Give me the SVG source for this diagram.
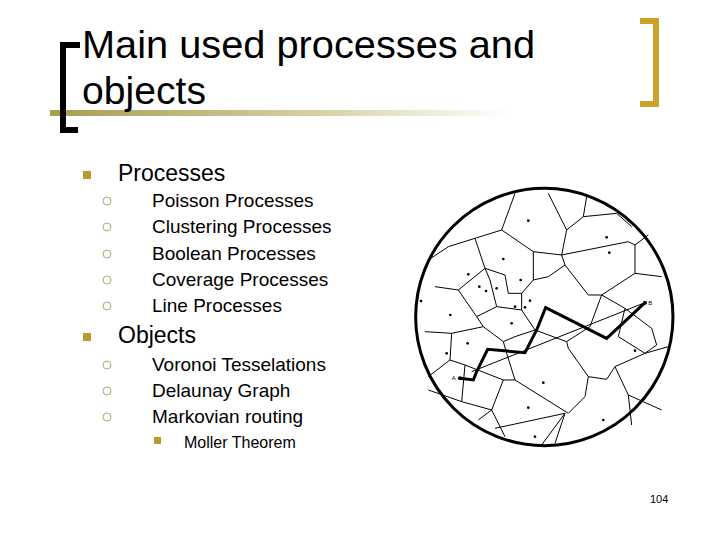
<svg xmlns="http://www.w3.org/2000/svg" width="720" height="540" viewBox="0 0 720 540">
<defs>
<linearGradient id="g" x1="0" x2="1"><stop offset="0" stop-color="#a89c4e"/><stop offset="0.6" stop-color="#d8d2a8"/><stop offset="1" stop-color="#fff"/></linearGradient>
<style>
text{font-family:"Liberation Sans",Arial,sans-serif;fill:#000}
.sq{fill:#b39a2c}
.ci{fill:none;stroke:#b0a878;stroke-width:1}
.l1{font-size:23px}.l2{font-size:19px}
.v{fill:none;stroke:#000;stroke-width:1;vector-effect:non-scaling-stroke}
.d{fill:#000}
</style>
</defs>
<rect width="720" height="540" fill="#fff"/>
<g id="title">
<rect x="50" y="110" width="460" height="6" fill="url(#g)"/>
<path d="M80,45 H63 V130 H78" fill="none" stroke="#000" stroke-width="6"/>
<path d="M640,21 H656 V104 H640" fill="none" stroke="#c9a227" stroke-width="6"/>
<text x="82" y="58" font-size="39" textLength="453" lengthAdjust="spacingAndGlyphs">Main used processes and</text>
<text x="82" y="104" font-size="39" textLength="124" lengthAdjust="spacingAndGlyphs">objects</text>
</g>
<g id="list">
<rect class="sq" x="83" y="171" width="8" height="8"/><text class="l1" x="118" y="181">Processes</text>
<circle class="ci" cx="107" cy="201" r="4"/><text class="l2" x="152" y="207">Poisson Processes</text>
<circle class="ci" cx="107" cy="227" r="4"/><text class="l2" x="152" y="233">Clustering Processes</text>
<circle class="ci" cx="107" cy="254" r="4"/><text class="l2" x="152" y="260">Boolean Processes</text>
<circle class="ci" cx="107" cy="280" r="4"/><text class="l2" x="152" y="286">Coverage Processes</text>
<circle class="ci" cx="107" cy="306" r="4"/><text class="l2" x="152" y="312">Line Processes</text>
<rect class="sq" x="83" y="333" width="8" height="8"/><text class="l1" x="118" y="343">Objects</text>
<circle class="ci" cx="107" cy="365" r="4"/><text class="l2" x="152" y="371">Voronoi Tesselations</text>
<circle class="ci" cx="107" cy="391" r="4"/><text class="l2" x="152" y="397">Delaunay Graph</text>
<circle class="ci" cx="107" cy="417" r="4"/><text class="l2" x="152" y="423">Markovian routing</text>
<rect class="sq" x="154" y="437" width="7" height="7"/><text x="184" y="448" font-size="16">Moller Theorem</text>
</g>
<g id="voronoi" transform="translate(415,180) scale(0.3333)">
<circle cx="388" cy="411" r="386" fill="none" stroke="#000" stroke-width="3" vector-effect="non-scaling-stroke"/>
<path class="v" d="M300,40 L260,150 L180,175 M400,40 L455,150 L505,110 L515,50 M505,110 L605,100 L650,140 M260,150 L355,215 L440,225 L455,150 M440,225 L640,185 L660,195 L660,280 L560,345 M660,195 L700,165 M660,280 L740,290 M180,175 L210,265 M180,175 L100,200 L40,240 M210,265 L270,285 L280,340 L320,340 L355,300 L355,215 M440,225 L450,255 L520,345 L560,345 M450,255 L400,290 L355,300 M210,265 L130,330 L60,320 M130,330 L185,410 M210,265 L225,300 L245,380 L185,410 M245,380 L320,390 L360,450 M320,340 L320,390 M185,410 L205,440 L265,485 L300,470 L360,450 M205,440 L110,460 L30,455 M110,460 L105,540 L150,555 M105,540 L40,590 M360,450 L455,485 L460,505 L520,590 L575,598 M520,590 L510,650 M455,485 L525,440 L560,345 M560,345 L630,385 L610,470 L690,520 M630,385 L710,445 L725,495 L690,520 M690,520 L600,560 L575,598 M690,520 L760,500 M600,560 L640,645 L740,690 M640,645 L650,735 M510,650 L460,700 M150,555 L265,600 L300,600 L275,520 L265,485 M300,600 L460,700 M265,600 L230,690 L190,720 M230,690 L270,770 M240,745 L450,700 L420,790 M450,700 L380,795 M150,555 L140,665 M40,630 L140,665 L230,690 M170,575 L690,368"/>
<path d="M135,595 L175,600 L185,575 L218,508 L330,518 L365,450 L392,383 L575,475 L690,368" fill="none" stroke="#000" stroke-width="3" vector-effect="non-scaling-stroke"/>
<g class="d">
<circle cx="340" cy="122" r="4"/><circle cx="575" cy="172" r="4"/><circle cx="583" cy="218" r="4"/><circle cx="265" cy="237" r="4"/><circle cx="160" cy="283" r="4"/><circle cx="193" cy="320" r="4"/><circle cx="213" cy="333" r="4"/><circle cx="245" cy="325" r="4"/><circle cx="317" cy="300" r="4"/><circle cx="345" cy="362" r="4"/><circle cx="300" cy="380" r="4"/><circle cx="330" cy="382" r="4"/><circle cx="106" cy="405" r="4"/><circle cx="290" cy="430" r="4"/><circle cx="18" cy="363" r="4"/><circle cx="158" cy="490" r="4"/><circle cx="95" cy="520" r="4"/><circle cx="660" cy="512" r="4"/><circle cx="385" cy="608" r="4"/><circle cx="340" cy="683" r="4"/><circle cx="565" cy="720" r="4"/><circle cx="360" cy="770" r="4"/><circle cx="135" cy="595" r="6"/><circle cx="690" cy="368" r="6"/>
</g>
<text x="110" y="600" font-size="18" font-family="Liberation Serif,serif">A</text>
<text x="700" y="376" font-size="18" font-family="Liberation Serif,serif">B</text>
</g>
<text x="650" y="503" font-size="11">104</text>
</svg>
